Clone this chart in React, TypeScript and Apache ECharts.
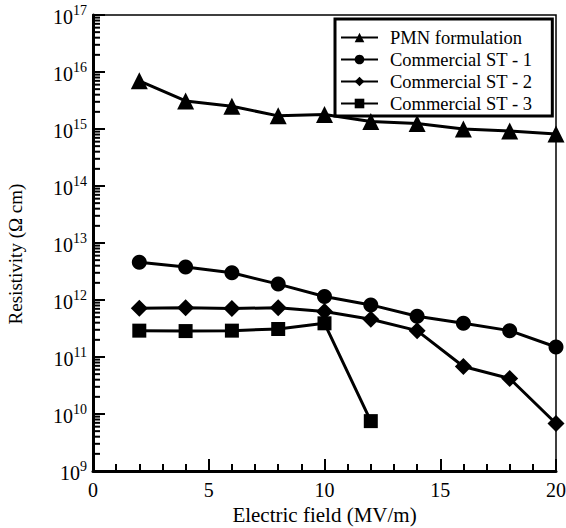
import React, { useEffect, useRef } from "react";
import * as echarts from "echarts";

const fieldX = [2, 4, 6, 8, 10, 12, 14, 16, 18, 20];
const fieldX3 = [2, 4, 6, 8, 10, 12];
const pmn = [7e15, 3.1e15, 2.5e15, 1.7e15, 1.8e15, 1.35e15, 1.25e15, 1.0e15, 9.2e14, 8.2e14];
const st1 = [4.6e12, 3.8e12, 3.0e12, 1.9e12, 1.15e12, 8.2e11, 5.2e11, 3.9e11, 2.9e11, 1.5e11];
const st2 = [7.2e11, 7.3e11, 7.1e11, 7.3e11, 6.3e11, 4.6e11, 2.9e11, 6.8e10, 4.2e10, 6.8e9];
const st3 = [2.9e11, 2.85e11, 2.9e11, 3.1e11, 3.9e11, 7.5e9];
const seriesNames = ["PMN formulation", "Commercial ST - 1", "Commercial ST - 2", "Commercial ST - 3"];
const xTicks = [0, 5, 10, 15, 20];
const decades = [9, 10, 11, 12, 13, 14, 15, 16, 17];
const minorMultipliers = [2, 3, 4, 5, 6, 7, 8, 9];

const FONT = "Liberation Serif";

export default function App() {
  const ref = useRef<HTMLDivElement>(null);
  useEffect(() => {
    if (!ref.current) return;
    const chart = echarts.init(ref.current, null, { renderer: "svg" });
    const minorVals: number[][] = [];
    decades.slice(0, -1).forEach((d) => {
      minorMultipliers.forEach((m) => minorVals.push([0, m * Math.pow(10, d)]));
    });
    const zip = (xs: number[], ys: number[]) => xs.map((x, i) => [x, ys[i]]);
    const common = {
      type: "line",
      color: "#000",
      lineStyle: { color: "#000", width: 3 },
      itemStyle: { color: "#000" },
      z: 5,
    };
    chart.setOption({
      animation: false,
      backgroundColor: "#fff",
      grid: {
        left: 93,
        right: 10,
        top: 15,
        bottom: 57,
        outerBoundsMode: "none",
        show: true,
        borderColor: "#000",
        borderWidth: 1.5,
      },
      legend: {
        data: seriesNames,
        orient: "vertical",
        left: 335,
        top: 19,
        padding: [9, 20, 3, 5],
        borderColor: "#000",
        borderWidth: 3,
        backgroundColor: "#fff",
        itemWidth: 37,
        itemHeight: 12,
        itemGap: 3,
        textStyle: { fontFamily: FONT, fontSize: 18.5, color: "#000", lineHeight: 14, padding: [0, 0, 0, 7] },
      },
      xAxis: {
        type: "value",
        min: 0,
        max: 20,
        interval: 5,
        name: "Electric field (MV/m)",
        nameLocation: "middle",
        nameGap: 33,
        nameTextStyle: { fontFamily: FONT, fontSize: 21, color: "#000" },
        axisLine: { show: true, onZero: false, lineStyle: { color: "#000", width: 3 } },
        axisTick: { show: true, inside: true, length: 12, lineStyle: { color: "#000", width: 2 } },
        minorTick: { show: true, splitNumber: 5, length: 7, lineStyle: { color: "#000", width: 2 } },
        splitLine: { show: false },
        axisLabel: {
          fontFamily: FONT,
          fontSize: 20,
          color: "#000",
          margin: 9,
          formatter: (v: number) => (xTicks.includes(v) ? String(v) : ""),
        },
      },
      yAxis: {
        type: "log",
        logBase: 10,
        min: 1e9,
        max: 1e17,
        name: "Resistivity (Ω cm)",
        nameLocation: "middle",
        nameGap: 68,
        nameTextStyle: { fontFamily: FONT, fontSize: 19, color: "#000", padding: [0, 22, 0, 0] },
        axisLine: { show: true, onZero: false, lineStyle: { color: "#000", width: 3 } },
        axisTick: { show: true, inside: true, length: 12, lineStyle: { color: "#000", width: 2 } },
        splitLine: { show: false },
        axisLabel: {
          margin: 6,
          formatter: (v: number) => `{b|10}{s|${Math.round(Math.log10(v))}}`,
          rich: {
            b: { fontFamily: FONT, fontSize: 20, color: "#000", verticalAlign: "bottom", lineHeight: 24 },
            s: { fontFamily: FONT, fontSize: 14, color: "#000", verticalAlign: "top", lineHeight: 24, padding: [0, 0, 12, 0] },
          },
        },
      },
      series: [
        {
          type: "custom",
          name: "minorTicks",
          silent: true,
          clip: false,
          data: minorVals,
          renderItem: (_p: any, api: any) => {
            const pt = api.coord([0, api.value(1)]);
            return {
              type: "line",
              shape: { x1: pt[0], y1: pt[1], x2: pt[0] + 7, y2: pt[1] },
              style: { stroke: "#000", lineWidth: 2 },
            };
          },
          z: 10,
        },
        { ...common, name: seriesNames[0], symbol: "triangle", symbolSize: 17, data: zip(fieldX, pmn) },
        { ...common, name: seriesNames[1], symbol: "circle", symbolSize: 15, data: zip(fieldX, st1) },
        { ...common, name: seriesNames[2], symbol: "diamond", symbolSize: 17, data: zip(fieldX, st2) },
        { ...common, name: seriesNames[3], symbol: "rect", symbolSize: 14, data: zip(fieldX3, st3) },
      ],
    });
    return () => chart.dispose();
  }, []);
  return (
    <div
      ref={ref}
      style={{ position: "fixed", left: 0, top: 0, width: 566, height: 528, background: "#fff" }}
    />
  );
}
